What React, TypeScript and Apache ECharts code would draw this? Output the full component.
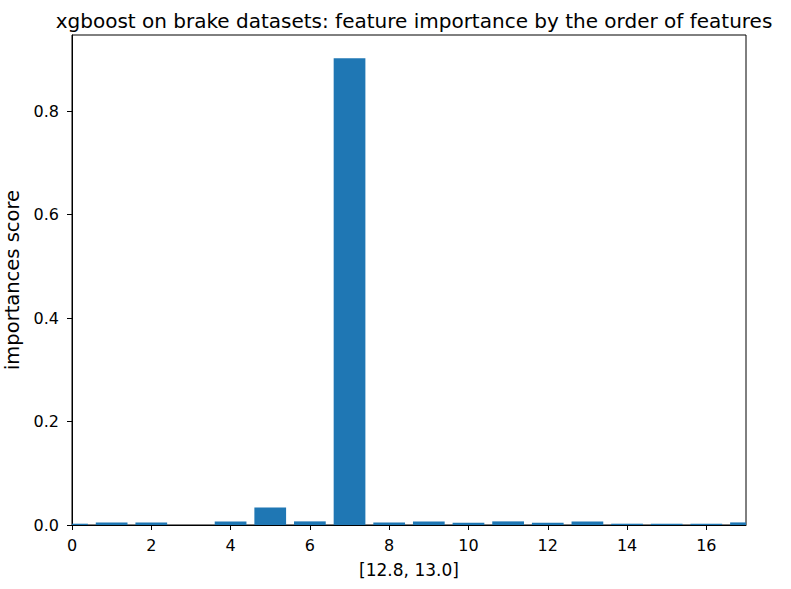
import React, { useEffect, useRef } from "react";
import * as echarts from "echarts";

const features = [0, 1, 2, 3, 4, 5, 6, 7, 8, 9, 10, 11, 12, 13, 14, 15, 16, 17];
const importances = [0.0025, 0.005, 0.005, 0, 0.007, 0.034, 0.007, 0.902, 0.005, 0.007, 0.0045, 0.007, 0.0045, 0.007, 0.0025, 0.0025, 0.0025, 0.005];
const xTicks = [0, 2, 4, 6, 8, 10, 12, 14, 16];
const yTicks = [0, 0.2, 0.4, 0.6, 0.8];

const FONT = "DejaVu Sans";
const BAR_COLOR = "#1f77b4";

export default function App() {
  const ref = useRef<HTMLDivElement>(null);
  useEffect(() => {
    if (!ref.current) return;
    const chart = echarts.init(ref.current, null, { renderer: "svg" });
    const left = 72, right = 45, top = 35, bottom = 64;
    const plotW = 791 - left - right;
    chart.setOption({
      animation: false,
      title: {
        text: "xgboost on brake datasets: feature importance by the order of features",
        left: left + plotW / 2,
        textAlign: "center",
        top: 6,
        textStyle: { fontFamily: FONT, fontSize: 20, fontWeight: "normal", color: "#000" },
      },
      grid: {
        left,
        right,
        top,
        bottom,
        containLabel: false,
        outerBoundsMode: "none",
        show: true,
        borderColor: "#000",
        borderWidth: 1,
        backgroundColor: "transparent",
      },
      xAxis: {
        type: "value",
        min: 0,
        max: 17,
        interval: 2,
        name: "[12.8, 13.0]",
        nameLocation: "middle",
        nameGap: 36,
        nameTextStyle: { fontFamily: FONT, fontSize: 17, color: "#000" },
        axisLine: { show: true, lineStyle: { color: "#000", width: 1 } },
        axisTick: { show: true, inside: false, length: 5, lineStyle: { color: "#000" }, customValues: xTicks },
        axisLabel: { fontFamily: FONT, fontSize: 16, color: "#000", margin: 12, customValues: xTicks },
        splitLine: { show: false },
      },
      yAxis: {
        type: "value",
        min: 0,
        max: 0.947,
        name: "importances score",
        nameLocation: "middle",
        nameGap: 48,
        nameTextStyle: { fontFamily: FONT, fontSize: 19.5, color: "#000" },
        axisLine: { show: true, lineStyle: { color: "#000", width: 1 } },
        axisTick: { show: true, inside: false, length: 5, lineStyle: { color: "#000" }, customValues: yTicks },
        axisLabel: {
          fontFamily: FONT,
          fontSize: 16,
          color: "#000",
          margin: 13,
          customValues: yTicks,
          formatter: (v: number) => v.toFixed(1),
        },
        splitLine: { show: false },
      },
      series: [
        {
          type: "custom",
          data: features.map((f, i) => [f, importances[i]]),
          renderItem: (params: any, api: any) => {
            const x = api.value(0);
            const y = api.value(1);
            const base = api.coord([x, 0]);
            const topPt = api.coord([x, y]);
            const w = api.size([0.8, 0])[0];
            const cs = params.coordSys;
            const rect = echarts.graphic.clipRectByRect(
              { x: base[0] - w / 2, y: topPt[1], width: w, height: base[1] - topPt[1] },
              { x: cs.x, y: cs.y, width: cs.width, height: cs.height }
            );
            if (!rect || rect.height <= 0) return null;
            return { type: "rect", shape: rect, style: { fill: BAR_COLOR } };
          },
        },
      ],
    });
    return () => chart.dispose();
  }, []);
  return <div ref={ref} style={{ width: 791, height: 589, position: "absolute", left: 0, top: 0 }} />;
}
